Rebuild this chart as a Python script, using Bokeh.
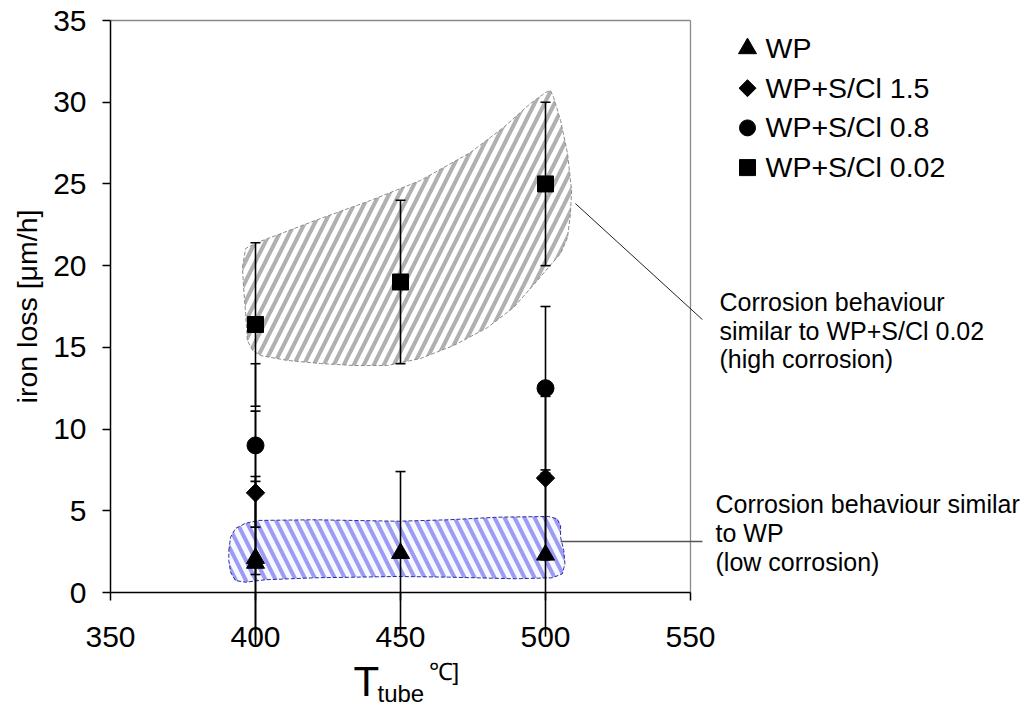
import math
from bokeh.plotting import figure
from bokeh.models import Range1d, FixedTicker
from bokeh.core.properties import value
from bokeh.embed import file_html
from bokeh.resources import INLINE

# ---------------- data ----------------
series_names = ["WP", "WP+S/Cl 1.5", "WP+S/Cl 0.8", "WP+S/Cl 0.02"]

wp_T = [400, 400, 450, 500]
wp_loss = [2.1, 1.8, 2.4, 2.3]
wp_err = [5, 5, 5, 5]

s15_T = [400, 500]
s15_loss = [6.1, 7.0]
s15_err = [5, 5]

s08_T = [400, 500]
s08_loss = [9.0, 12.5]
s08_err = [5, 5]

s002_T = [400, 450, 500]
s002_loss = [16.4, 19.0, 25.0]
s002_err = [5, 5, 5]

x_ticks = [350, 400, 450, 500, 550]
y_ticks = [0, 5, 10, 15, 20, 25, 30, 35]

# hand-drawn zones (outline points, data units)
high_zone_T = [395.5, 396.6, 400.7, 422.4, 439.7, 456.9, 474.1, 485.5, 494.8, 500.0, 501.7,
               502.8, 505.2, 507.6, 509.0, 508.6, 507.6, 505.2, 501.0, 497.2, 489.0, 480.0,
               468.3, 456.9, 445.5, 433.8, 422.4, 411.0, 401.7, 399.0, 397.2, 396.6, 395.9]
high_zone_loss = [19.89, 21.05, 21.42, 22.88, 23.99, 25.21, 26.92, 28.45, 29.92, 30.59, 30.72,
                  30.29, 28.88, 26.86, 24.60, 23.19, 21.72, 20.74, 19.89, 19.09, 17.44, 16.21,
                  15.11, 14.32, 13.89, 13.89, 14.01, 14.20, 14.50, 14.81, 15.42, 17.07, 18.66]
low_zone_T = [390.8, 391.4, 393.1, 396.6, 401.0, 420.7, 449.3, 466.6, 483.8, 501.0, 504.0,
              505.2, 505.2, 506.3, 506.7, 505.8, 502.3, 489.7, 466.6, 449.3, 420.7, 403.4,
              396.6, 393.1, 391.4, 390.8]
low_zone_loss = [2.57, 3.38, 3.92, 4.24, 4.41, 4.45, 4.36, 4.45, 4.61, 4.65, 4.51,
                 4.10, 3.38, 2.57, 1.76, 1.14, 0.90, 0.84, 0.94, 0.98, 0.90, 0.78,
                 0.63, 0.73, 1.24, 1.96]

high_leader_T = [510.3, 554.1]
high_leader_loss = [23.80, 16.70]
low_leader_T = [505.2, 554.1]
low_leader_loss = [3.12, 3.12]

high_text = ["Corrosion behaviour", "similar to WP+S/Cl 0.02", "(high corrosion)"]
low_text = ["Corrosion behaviour similar", "to WP", "(low corrosion)"]

FONT = "Liberation Sans"

# ---------------- layout constants (pixels) ----------------
W, H = 1030, 708
AX_L, AX_R, AX_T, AX_B = 110, 690, 20, 592
X0, X1 = x_ticks[0], x_ticks[-1]
Y0, Y1 = y_ticks[0], y_ticks[-1]
sx = (AX_R - AX_L) / (X1 - X0)
sy = (AX_B - AX_T) / (Y1 - Y0)


def dx(px):
    return X0 + (px - AX_L) / sx


def dy(py):
    return Y0 + (AX_B - py) / sy


p = figure(width=W, height=H,
           x_range=Range1d(dx(0), dx(W)), y_range=Range1d(dy(H), dy(0)),
           output_backend="svg", toolbar_location=None,
           min_border=0, min_border_left=0, min_border_right=0,
           min_border_top=0, min_border_bottom=0,
           background_fill_color="white", border_fill_color="white")
p.title.visible = False
p.grid.visible = False
p.outline_line_color = None

for ax, ticks in ((p.xaxis, x_ticks), (p.yaxis, y_ticks)):
    ax.ticker = FixedTicker(ticks=ticks)
    ax.minor_tick_line_color = None
    ax.major_tick_in = 0
    ax.major_tick_out = 8
    ax.major_tick_line_color = "black"
    ax.major_tick_line_width = 1.5
    ax.axis_line_color = "black"
    ax.axis_line_width = 1.5
    ax.major_label_text_font = FONT
    ax.major_label_text_font_size = "30px"
    ax.major_label_text_color = "black"
p.xaxis.fixed_location = Y0
p.xaxis.bounds = (X0, X1)
p.yaxis.fixed_location = X0
p.yaxis.bounds = (Y0, Y1)
p.xaxis.major_label_standoff = 26
p.yaxis.major_label_standoff = 16
p.yaxis.axis_label = "iron loss [\u03bcm/h]"
p.yaxis.axis_label_text_font = FONT
p.yaxis.axis_label_text_font_size = "28.5px"
p.yaxis.axis_label_text_font_style = "normal"
p.yaxis.axis_label_text_color = "black"
p.yaxis.axis_label_standoff = 7

# top and right frame lines (gray)
p.segment(x0=[X0, X1], y0=[Y1, Y0], x1=[X1, X1], y1=[Y1, Y1],
          line_color="#8a8a8a", line_width=1.3)

# zones
p.patch(high_zone_T, high_zone_loss, fill_color="white", fill_alpha=1.0,
        hatch_pattern="/", hatch_color="#b0b0b0", hatch_weight=4, hatch_scale=20,
        line_color="#8c8c8c", line_width=1, line_dash="4 2")
p.patch(low_zone_T, low_zone_loss, fill_color="#f8f8ff", fill_alpha=1.0,
        hatch_pattern="\\", hatch_color="#9c9cf6", hatch_weight=4, hatch_scale=20,
        line_color="#2a2aa0", line_width=1, line_dash="4 2")

# leader lines
p.segment(x0=[high_leader_T[0]], y0=[high_leader_loss[0]], x1=[high_leader_T[1]],
          y1=[high_leader_loss[1]], line_color="#222222", line_width=1)
p.segment(x0=[low_leader_T[0]], y0=[low_leader_loss[0]], x1=[low_leader_T[1]],
          y1=[low_leader_loss[1]], line_color="#555555", line_width=1.5)

# error bars and markers
styles = [dict(marker="triangle", size=18),
          dict(marker="square", size=13, angle=math.pi / 4),
          dict(marker="circle", size=17),
          dict(marker="square", size=16)]
series = [(wp_T, wp_loss, wp_err), (s15_T, s15_loss, s15_err),
          (s08_T, s08_loss, s08_err), (s002_T, s002_loss, s002_err)]
for T, v, e in series:
    lo = [a - b for a, b in zip(v, e)]
    hi = [a + b for a, b in zip(v, e)]
    p.segment(x0=T, y0=lo, x1=T, y1=hi, line_color="black", line_width=1.6)
    p.scatter(T, hi, marker="dash", size=10, line_color="black", line_width=1.6)
    p.scatter([t for t, l in zip(T, lo) if l >= Y0], [l for l in lo if l >= Y0],
              marker="dash", size=10, line_color="black", line_width=1.6)
for (T, v, e), st in zip(series, styles):
    p.scatter(T, v, fill_color="black", line_color="black", **st)


def label(xpx, base_px, texts, size, step=0.0):
    """texts placed with their visual baseline at base_px (+ step per line)."""
    shift = 0.3 * size
    p.text(x=[dx(xpx)] * len(texts),
           y=[dy(base_px + i * step - shift) for i in range(len(texts))],
           text=texts, text_font=value(FONT), text_font_size=f"{size}px",
           text_baseline="alphabetic", text_color="black")


# legend (markers + names)
LEG_STEP = 39.7
leg_sizes = [18, 12, 16, 16]
for i, st in enumerate(styles):
    kw = dict(st)
    kw["size"] = leg_sizes[i]
    p.scatter([dx(747)], [dy(56 + LEG_STEP * i - 8)], fill_color="black",
              line_color="black", **kw)
label(765, 56, series_names, 28.5, LEG_STEP)

# annotation texts
label(719, 309, high_text, 25, 28.5)
label(715, 511, low_text, 25, 29)

# x-axis title  T_tube ℃]
label(353, 694, ["T"], 42)
label(377, 700, ["tube"], 24)
label(428, 678, ["\u2103]"], 24)

open("out.html", "w").write(file_html(p, INLINE))
